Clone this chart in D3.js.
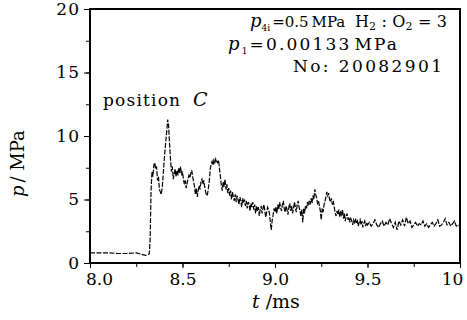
<!DOCTYPE html>
<html>
<head>
<meta charset="utf-8">
<script src="https://cdn.jsdelivr.net/npm/d3@7"></script>
<style>
  body { margin: 0; background: #fff; }
  svg text, svg tspan { font-family: "DejaVu Serif", serif; fill: #000; }
  .axis path, .axis line { stroke: #000; }
  .tick text { font-size: 17px; }
</style>
</head>
<body>
<div id="chart"></div>
<script>
// pressure trace before the shock arrives (t in ms, p in MPa)
const baseTime = [8.00, 8.05, 8.10, 8.15, 8.20, 8.25, 8.30, 8.32];
const basePressure = [0.8, 0.8, 0.8, 0.75, 0.75, 0.8, 0.6, 0.7];

// trace after the jump, sampled every 0.005 ms from 8.325 ms
const traceStart = 8.325;
const traceStep = 0.005;
const tracePressure = [
  1.8, 5.7, 7.2, 6.8, 7.7, 7.9, 7.4, 7.6, 6.5, 6.8, 5.8, 5.6, 5.4, 5.9, 6.8, 7.9,
  8.8, 9.6, 10.4, 11.3, 10.8, 9.4, 8.2, 7.2, 7.6, 6.6, 7.0, 7.4, 6.8, 7.3, 6.9, 7.5,
  7.1, 7.6, 6.9, 7.2, 6.6, 6.2, 6.5, 5.9, 6.3, 6.6, 6.9, 6.7, 7.1, 7.3, 6.8, 6.4,
  6.0, 5.4, 5.9, 5.2, 5.7, 6.1, 5.8, 6.4, 6.6, 6.2, 6.5, 6.0, 5.6, 5.3, 5.4, 5.9,
  6.5, 7.4, 7.8, 8.0, 7.7, 8.1, 7.9, 8.2, 8.0, 7.9, 8.1, 7.4, 6.8, 6.1, 5.7, 6.4,
  6.0, 6.6, 5.8, 6.2, 5.5, 5.9, 5.3, 5.7, 5.0, 5.6, 5.2, 4.9, 5.4, 4.8, 5.3, 5.0,
  4.6, 5.2, 4.9, 4.4, 5.1, 4.7, 5.0, 4.5, 4.9, 4.3, 4.8, 4.6, 4.1, 4.7, 4.4, 4.8,
  4.2, 4.6, 3.9, 4.5, 4.1, 4.4, 3.7, 4.2, 4.5, 3.9, 4.3, 4.6, 4.1, 3.6, 4.0, 4.4,
  4.2, 3.9, 3.2, 2.6, 3.4, 3.8, 4.3, 4.0, 4.4, 3.9, 4.6, 4.2, 4.8, 4.4, 4.1, 4.6,
  4.9, 4.3, 4.0, 4.5, 4.2, 3.8, 4.4, 4.7, 4.1, 4.5, 3.9, 4.3, 4.8, 4.4, 4.0, 4.6,
  4.9, 4.4, 4.1, 3.7, 4.2, 3.2, 4.3, 3.9, 4.5, 4.3, 4.8, 4.5, 4.9, 4.6, 5.1, 4.7,
  5.3, 5.0, 5.8, 5.4, 5.1, 4.7, 4.9, 4.5, 4.1, 3.4, 4.3, 4.0, 4.6, 4.8, 5.2, 5.6,
  5.3, 5.5, 5.0, 4.8, 5.1, 4.6, 4.9, 4.4, 4.0, 3.7, 4.1, 3.8, 4.2, 3.6, 4.0, 3.8,
  4.2, 3.5, 3.9, 3.3, 3.7, 3.9, 3.4, 3.6, 3.2, 3.5, 3.3, 3.0, 3.4, 3.2, 3.5, 3.1,
  3.3, 2.9, 3.2, 3.4, 3.0, 3.3, 2.8, 3.1, 3.3, 2.9, 3.2
];

// tail, sampled every 0.01 ms from 9.50 ms
const tailStart = 9.50;
const tailStep = 0.01;
const tailPressure = [
  3.0, 3.2, 2.9, 3.1, 3.4, 3.0, 2.8, 3.1, 3.3, 2.9, 3.2, 3.0, 3.5, 3.1, 2.8, 3.2,
  2.6, 3.3, 3.0, 3.4, 2.9, 3.6, 3.1, 3.3, 2.8, 3.0, 3.2, 2.9, 3.1, 3.0, 3.3, 2.9,
  3.1, 2.8, 3.0, 3.2, 2.9, 3.1, 3.4, 2.9, 3.0, 3.2, 3.5, 3.0, 3.2, 2.9, 3.1, 3.3,
  2.9, 3.0, 2.9
];

const xTicks = [8.0, 8.5, 9.0, 9.5, 10];
const xTickLabels = ["8.0", "8.5", "9.0", "9.5", "10"];
const yTicks = [0, 5, 10, 15, 20];

const width = 467, height = 320;
const margin = { top: 9, right: 7, bottom: 57, left: 90 };
const w = width - margin.left - margin.right;
const h = height - margin.top - margin.bottom;
const serif = '"DejaVu Serif", serif';

const data = [];
baseTime.forEach((t, i) => data.push({ t: t, p: basePressure[i] }));
tracePressure.forEach((p, i) => data.push({ t: traceStart + i * traceStep, p: p }));
tailPressure.forEach((p, i) => data.push({ t: tailStart + i * tailStep, p: p }));

const svg = d3.select("#chart").append("svg")
  .attr("width", width)
  .attr("height", height)
  .attr("font-family", serif);

const g = svg.append("g")
  .attr("transform", `translate(${margin.left},${margin.top})`);

const x = d3.scaleLinear().domain([8, 10]).range([0, w]);
const y = d3.scaleLinear().domain([0, 20]).range([h, 0]);

// trace
const line = d3.line().x(d => x(d.t)).y(d => y(d.p));
g.append("path")
  .datum(data)
  .attr("fill", "none")
  .attr("stroke", "#000")
  .attr("stroke-width", 1.2)
  .attr("stroke-dasharray", "5 1.5")
  .attr("d", line);

// minor ticks
g.append("g")
  .attr("class", "axis")
  .attr("transform", `translate(0,${h})`)
  .call(d3.axisBottom(x).tickValues(d3.range(8, 10.01, 0.25)).tickSize(4).tickFormat(""))
  .call(s => s.select(".domain").remove());
g.append("g")
  .attr("class", "axis")
  .call(d3.axisLeft(y).tickValues(d3.range(0, 20.01, 2.5)).tickSize(4).tickFormat(""))
  .call(s => s.select(".domain").remove());

// major ticks + labels
const xAxis = g.append("g")
  .attr("class", "axis")
  .attr("transform", `translate(0,${h})`)
  .call(d3.axisBottom(x).tickValues(xTicks).tickSize(5).tickPadding(5)
    .tickFormat((d, i) => xTickLabels[i]));
xAxis.select(".domain").remove();
xAxis.attr("font-family", serif);
xAxis.selectAll(".tick text")
  .attr("dx", (d, i) => i === 0 ? 9 : (i === xTicks.length - 1 ? -8 : 0));

const yAxis = g.append("g")
  .attr("class", "axis")
  .call(d3.axisLeft(y).tickValues(yTicks).tickSize(6).tickPadding(4));
yAxis.select(".domain").remove();
yAxis.attr("font-family", serif);
yAxis.selectAll(".tick text").style("letter-spacing", "1px");

// frame
g.append("rect")
  .attr("width", w)
  .attr("height", h)
  .attr("fill", "none")
  .attr("stroke", "#000")
  .attr("stroke-width", 2);

// axis titles
const xt = svg.append("text")
  .attr("x", 252)
  .attr("y", 308)
  .style("font-size", "19px");
xt.append("tspan").style("font-style", "italic").text("t");
xt.append("tspan").attr("dx", 6).text("/ms");

const yt = svg.append("text")
  .attr("transform", "translate(24,197) rotate(-90)")
  .style("font-size", "18px");
yt.append("tspan").style("font-style", "italic").text("p");
yt.append("tspan").attr("dx", 3).text("/ MPa");

// annotations
const ann = svg.append("g").style("font-size", "16px");
const l1 = ann.append("text").attr("x", 250).attr("y", 27);
l1.append("tspan").style("font-style", "italic").style("font-size", "18px").text("p");
l1.append("tspan").attr("dy", 4).style("font-size", "9px").text("4i");
l1.append("tspan").attr("dy", -4).attr("dx", 2).style("font-size", "15px").text("=0.5");
l1.append("tspan").attr("dx", 3).style("font-size", "15px").text("MPa");

const l1b = ann.append("text").attr("x", 355).attr("y", 27)
  .attr("textLength", 92).attr("lengthAdjust", "spacing");
l1b.append("tspan").text("H");
l1b.append("tspan").attr("dy", 3).style("font-size", "11px").text("2");
l1b.append("tspan").attr("dy", -3).text(" : O");
l1b.append("tspan").attr("dy", 3).style("font-size", "11px").text("2");
l1b.append("tspan").attr("dy", -3).text(" = 3");

const l2 = ann.append("text").attr("x", 228).attr("y", 50)
  .style("font-size", "17px")
  .attr("textLength", 169).attr("lengthAdjust", "spacing");
l2.append("tspan").style("font-style", "italic").style("font-size", "18px").text("p");
l2.append("tspan").attr("dy", 4).style("font-size", "9px").text("1");
l2.append("tspan").attr("dy", -4).text("=0.00133");
l2.append("tspan").attr("dx", 3).text("MPa");

ann.append("text").attr("x", 293).attr("y", 72)
  .style("font-size", "17px")
  .attr("textLength", 149).attr("lengthAdjust", "spacing")
  .text("No: 20082901");

ann.append("text").attr("x", 103).attr("y", 106)
  .attr("textLength", 77).attr("lengthAdjust", "spacing")
  .style("font-size", "17px")
  .text("position");
ann.append("text").attr("x", 193).attr("y", 106)
  .style("font-style", "italic").style("font-size", "19px")
  .text("C");
</script>
</body>
</html>
